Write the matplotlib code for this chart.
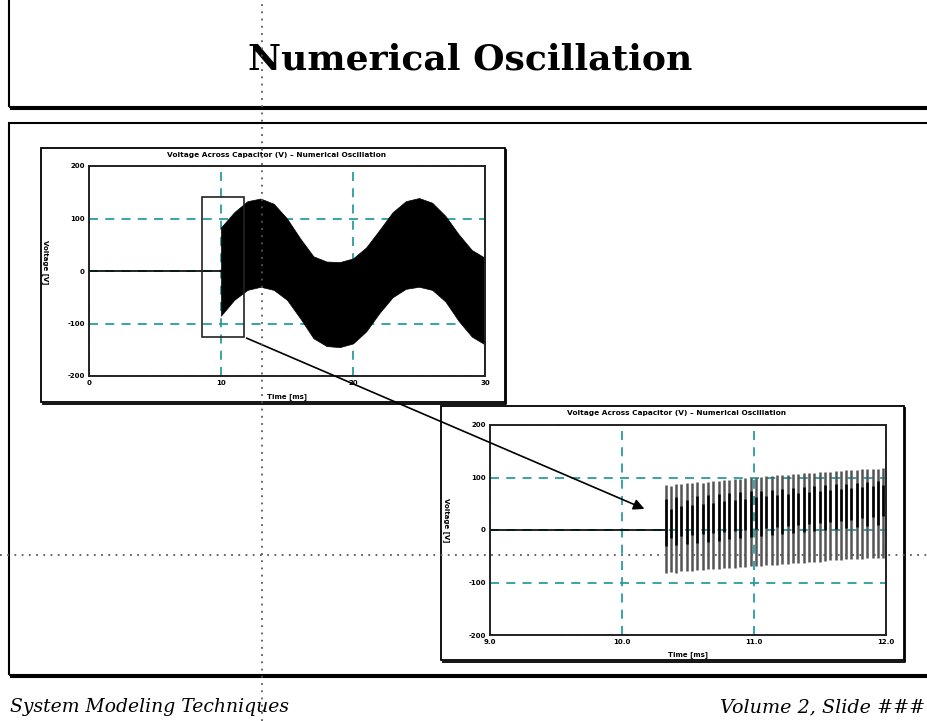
import numpy as np
import matplotlib
matplotlib.use("Agg")
import matplotlib.pyplot as plt
from matplotlib.patches import Rectangle, FancyArrowPatch
from matplotlib.lines import Line2D

W, H = 928, 721

# ---- data ----
plot_title = "Voltage Across Capacitor (V) \u2013 Numerical Oscillation"
x_label = "Time [ms]"
y_label = "Voltage [V]"
y_ticks = [-200, -100, 0, 100, 200]

# overview plot
top_xticks = [0, 1, 2, 3]
top_xticklabels = ["0", "10", "20", "30"]
top_flat_t = [0.0, 1.0]
top_flat_v = [0, 0]
env_t = [1.0, 1.1, 1.2, 1.3, 1.4, 1.5, 1.6, 1.7, 1.8, 1.9, 2.0,
         2.1, 2.2, 2.3, 2.4, 2.5, 2.6, 2.7, 2.8, 2.9, 3.0]
env_upper = [83, 112, 133, 138, 128, 100, 62, 28, 18, 17, 24,
             45, 78, 112, 133, 139, 130, 105, 70, 40, 25]
env_lower = [-85, -55, -36, -30, -36, -55, -90, -128, -143, -145, -138,
             -115, -80, -50, -34, -30, -36, -58, -95, -125, -140]
zoom_box = (0.856, 1.174, -125, 141)   # t0, t1, v0, v1

# zoomed plot
bot_xticks = [0.9, 1.0, 1.1, 1.2]
bot_xticklabels = ["9.0", "10.0", "11.0", "12.0"]
bot_flat_t = [0.9, 1.033]
bot_flat_v = [0, 0]
osc_start, osc_end = 1.033, 1.198
osc_tops = [86, 84, 88, 87, 89, 90, 91, 90, 92, 93, 94, 95, 95, 97, 98, 99,
            100, 99, 101, 102, 103, 104, 104, 105, 106, 107, 108, 108, 109,
            110, 111, 111, 112, 113, 114, 114, 115, 116, 116, 117, 117, 118]
osc_bottoms = [-82, -80, -81, -79, -78, -78, -77, -76, -75, -75, -74, -73,
               -72, -72, -71, -70, -69, -69, -68, -67, -66, -66, -65, -64,
               -63, -63, -62, -61, -60, -60, -59, -58, -58, -57, -56, -56,
               -55, -55, -54, -54, -53, -53]
# darker core of each bar
core_tops = [60, 40, 62, 45, 58, 48, 64, 50, 66, 52, 68, 55, 70, 58, 72, 60,
             74, 62, 75, 64, 77, 66, 78, 68, 80, 70, 82, 72, 84, 74, 86, 76,
             87, 78, 88, 80, 90, 82, 92, 84, 94, 86]
core_bottoms = [-30, -15, -28, -12, -26, -10, -24, -8, -22, -6, -20, -4,
                -18, -2, -16, 0, -14, 2, -12, 4, -10, 6, -8, 8, -6, 10, -4,
                12, -2, 14, 0, 16, 2, 18, 4, 20, 6, 22, 8, 24, 10, 26]

teal = "#2a9d9d"


def fx(px):
    return px / W


def fy(py):
    return 1 - py / H


def box(x0, y0, x1, y1, lw=1.5, shadow=1.5):
    fig.add_artist(Rectangle((fx(x0), fy(y1)), fx(x1) - fx(x0), fy(y0) - fy(y1),
                             transform=fig.transFigure, fill=False,
                             edgecolor="black", lw=lw))
    # drop shadow on right and bottom
    fig.add_artist(Line2D([fx(x0 + 2), fx(x1 + 1.5), fx(x1 + 1.5)],
                          [fy(y1 + 1.5), fy(y1 + 1.5), fy(y0 + 2)],
                          transform=fig.transFigure, color="black", lw=shadow))


def style_axes(ax, xticks, xlabels, xlim):
    ax.set_xlim(*xlim)
    ax.set_ylim(-200, 200)
    ax.set_xticks(xticks)
    ax.set_xticklabels(xlabels)
    ax.set_yticks(y_ticks)
    ax.set_yticklabels([str(v) for v in y_ticks])
    ax.tick_params(length=0, labelsize=5, pad=3)
    for lab in ax.get_xticklabels() + ax.get_yticklabels():
        lab.set_fontweight("bold")
    ax.grid(True, color=teal, ls=(0, (5, 4)), lw=1.3)
    ax.set_axisbelow(True)
    for s in ax.spines.values():
        s.set_linewidth(1.4)
        s.set_color("#222222")


fig = plt.figure(figsize=(W / 100, H / 100), dpi=100)

# slide frames
box(9, -10, 940, 107, lw=1.5, shadow=1.5)
box(9, 123, 940, 675, lw=1.5, shadow=1.5)
fig.text(fx(470), fy(70), "Numerical Oscillation", family="DejaVu Serif",
         weight="bold", size=26, ha="center", va="baseline")
fig.text(fx(10), fy(712), "System Modeling Techniques", family="DejaVu Serif",
         style="italic", size=13.5, ha="left", va="baseline")
fig.text(fx(925), fy(712), "Volume 2, Slide ###", family="DejaVu Serif",
         style="italic", size=13.8, ha="right", va="baseline")

# overview plot
box(41, 148, 505, 402, lw=1.3, shadow=1.3)
ax1 = fig.add_axes([fx(89), fy(376), fx(485) - fx(89), fy(166) - fy(376)])
style_axes(ax1, top_xticks, top_xticklabels, (0, 3))
ax1.plot(top_flat_t, top_flat_v, color="black", lw=1.2)
ax1.fill_between(env_t, env_upper, env_lower, color="black", lw=0.5)
ax1.add_patch(Rectangle((zoom_box[0], zoom_box[2]), zoom_box[1] - zoom_box[0],
                        zoom_box[3] - zoom_box[2], fill=False,
                        edgecolor="#222222", lw=1.2, zorder=5))
fig.text(fx(277), fy(155), plot_title, size=5.3, weight="bold",
         ha="center", va="center")
fig.text(fx(287), fy(397), x_label, size=5, weight="bold",
         ha="center", va="center")
fig.text(fx(45), fy(262), y_label, size=5, weight="bold", rotation=270,
         ha="center", va="center")

# zoomed plot
box(441, 406, 904, 660, lw=1.3, shadow=1.3)
ax2 = fig.add_axes([fx(490), fy(635), fx(886) - fx(490), fy(425) - fy(635)])
style_axes(ax2, bot_xticks, bot_xticklabels, (0.9, 1.2))
ax2.plot(bot_flat_t, bot_flat_v, color="black", lw=1.2)
peak_t = np.linspace(osc_start, osc_end, len(osc_tops))
ax2.vlines(peak_t, osc_bottoms, osc_tops, color="#555555", lw=1.8)
ax2.vlines(peak_t, core_bottoms, core_tops, color="black", lw=1.8)
fig.text(fx(677), fy(413), plot_title, size=5.3, weight="bold",
         ha="center", va="center")
fig.text(fx(688), fy(655), x_label, size=5, weight="bold",
         ha="center", va="center")
fig.text(fx(446), fy(520), y_label, size=5, weight="bold", rotation=270,
         ha="center", va="center")

# zoom arrow
fig.add_artist(FancyArrowPatch((fx(244), fy(337)), (fx(647), fy(510)),
                               transform=fig.transFigure, arrowstyle="-|>",
                               mutation_scale=16, color="black", lw=1.2,
                               zorder=6))

# dotted guide lines
fig.add_artist(Line2D([fx(262), fx(262)], [0, 1], transform=fig.transFigure,
                      color="0.35", ls=(0, (1, 3)), lw=1.3, zorder=7))
fig.add_artist(Line2D([0, 1], [fy(555), fy(555)], transform=fig.transFigure,
                      color="0.35", ls=(0, (1, 3)), lw=1.3, zorder=7))

fig.savefig("out.png", dpi=100)
